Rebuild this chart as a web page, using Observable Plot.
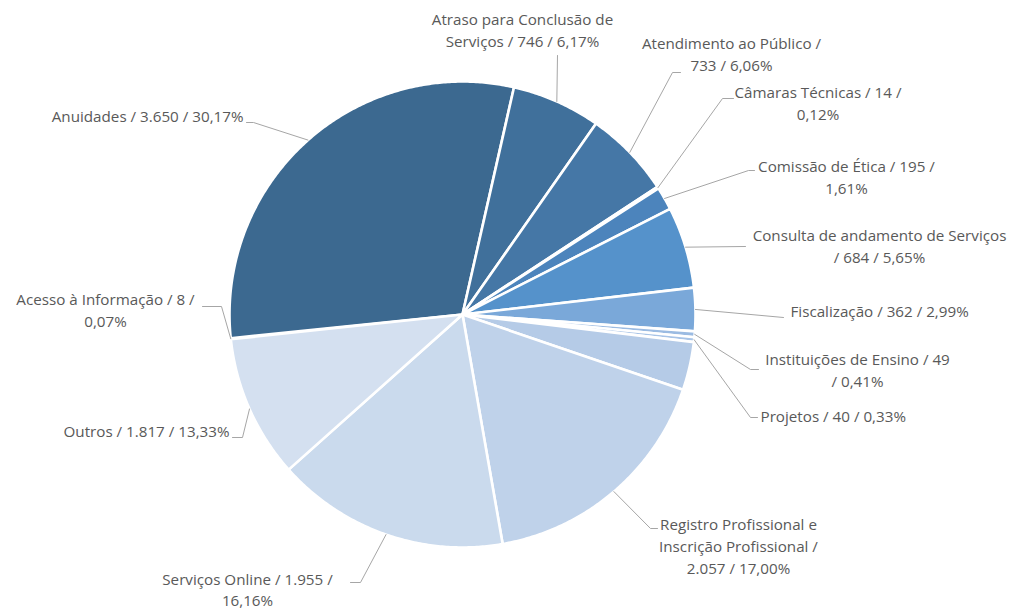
<!DOCTYPE html>
<html><head><meta charset="utf-8">
<script src="https://cdn.jsdelivr.net/npm/d3@7"></script>
<script src="https://cdn.jsdelivr.net/npm/@observablehq/plot@0.6"></script>
<style>body{margin:0;background:#fff;} #chart svg{display:block;}</style>
</head><body><div id="chart"></div>
<script>
// ---- data (clockwise order, as drawn) ----
const categories = ["Acesso à Informação","Anuidades","Atraso para Conclusão de Serviços","Atendimento ao Público","Câmaras Técnicas","Comissão de Ética","Consulta de andamento de Serviços","Fiscalização","Instituições de Ensino","Projetos","","Registro Profissional e Inscrição Profissional","Serviços Online","Outros"];
const counts = [8, 3650, 746, 733, 14, 195, 684, 362, 49, 40, null, 2057, 1955, 1817];
const percents = [0.07, 30.17, 6.17, 6.06, 0.12, 1.61, 5.65, 2.99, 0.41, 0.33, null, 17.00, 16.16, 13.33];
// share of the circle each slice occupies in the picture (percent)
const sliceShare = [0.07, 30.17, 6.17, 6.06, 0.12, 1.61, 5.65, 2.99, 0.41, 0.33, 3.35, 17.00, 16.16, 9.9];
const colors = ["#DCE6F2","#3C6990","#40709B","#4577A6","#497EB1","#4C84BC","#5592CB","#7AA8D9","#9BBBE2","#A8C4E7","#B5CBE7","#BFD2EA","#CADAED","#D4E0F0"];

// ---- layout (pixels) ----
const W = 1009, H = 610;
const cx = 462, cy = 314, R = 233;
const startAngle = 263.9; // degrees clockwise from 12 o'clock
const lineGap = 21.7;
const labelLayout = [
  {text:[105,299.5], anchor:"middle", wrap:25, elbow:[221,306], end:[202,306]},
  {text:[243,116.5], anchor:"end", wrap:99, elbow:[253,122], end:[246,122]},
  {text:[522,20], anchor:"middle", wrap:24, elbow:null, end:[557,55]},
  {text:[731,44], anchor:"middle", wrap:24, elbow:[672,72], end:[680,72]},
  {text:[817.5,93], anchor:"middle", wrap:23, elbow:[722,98], end:[733,98]},
  {text:[846,167], anchor:"middle", wrap:25, elbow:[748,170], end:[754,170]},
  {text:[879,235.5], anchor:"middle", wrap:33, elbow:null, end:[745,246]},
  {text:[790,312], anchor:"start", wrap:99, elbow:null, end:[783,317]},
  {text:[857,359.5], anchor:"middle", wrap:27, elbow:[750,369], end:[758,369]},
  {text:[760,416.5], anchor:"start", wrap:99, elbow:[750,417], end:[757,417]},
  null,
  {text:[738,525], anchor:"middle", wrap:24, elbow:[650,528], end:[657,528]},
  {text:[247,579.3], anchor:"middle", wrap:25, elbow:[360,582], end:[350,582]},
  {text:[229,431.5], anchor:"end", wrap:99, elbow:[242,437], end:[232,437]}
];

const loc = d3.formatLocale({decimal:",", thousands:".", grouping:[3], currency:["R$",""]});
const fmtInt = loc.format(",d"), fmtPct = loc.format(".2f");

// ---- geometry from data ----
const total = d3.sum(sliceShare);
const rad = a => a * Math.PI / 180;
const px = (a, r) => cx + r * Math.sin(rad(a));
const py = (a, r) => cy - r * Math.cos(rad(a));
let acc = startAngle;
const slices = categories.map((c, i) => {
  const a0 = acc, a1 = acc + sliceShare[i] / total * 360;
  acc = a1;
  return {i, cat: c || "(sem rótulo)", a0, a1, mid: (a0 + a1) / 2, color: colors[i]};
});
const slicePts = [];
for (const s of slices) {
  slicePts.push({k: s.i, x: cx, y: cy, color: s.color});
  const n = Math.max(2, Math.ceil((s.a1 - s.a0) / 0.5));
  for (let j = 0; j <= n; j++) {
    const a = s.a0 + (s.a1 - s.a0) * j / n;
    slicePts.push({k: s.i, x: px(a, R), y: py(a, R), color: s.color});
  }
}

function wrap(str, n) {
  const words = str.split(" "), lines = [];
  let cur = "";
  for (const w of words) {
    if (cur === "") cur = w;
    else if ((cur + " " + w).length <= n) cur += " " + w;
    else { lines.push(cur); cur = w; }
  }
  if (cur) lines.push(cur);
  return lines;
}

const leaderPts = [], textRows = [];
slices.forEach(s => {
  const L = labelLayout[s.i];
  if (!L || counts[s.i] == null) return;
  leaderPts.push({k: s.i, x: px(s.mid, R), y: py(s.mid, R)});
  if (L.elbow) leaderPts.push({k: s.i, x: L.elbow[0], y: L.elbow[1]});
  leaderPts.push({k: s.i, x: L.end[0], y: L.end[1]});
  const label = `${categories[s.i]} / ${fmtInt(counts[s.i])} / ${fmtPct(percents[s.i])}%`;
  wrap(label, L.wrap).forEach((t, j) => textRows.push({x: L.text[0], y: L.text[1] + j * lineGap, t, anchor: L.anchor}));
});

const font = "Open Sans";
const textMark = anchor => Plot.text(textRows.filter(d => d.anchor === anchor), {
  x: "x", y: "y", text: "t", textAnchor: anchor, fill: "#595959", fontSize: 15.2, fontFamily: font
});

const chart = Plot.plot({
  width: W, height: H, margin: 0,
  x: {domain: [0, W], range: [0, W], axis: null},
  y: {domain: [0, H], range: [0, H], axis: null},
  color: {type: "identity"},
  style: {background: "#fff", fontFamily: font},
  marks: [
    Plot.line(slicePts, {x: "x", y: "y", z: "k", fill: "color", stroke: "#fff", strokeWidth: 2.6, strokeLinejoin: "round", curve: "linear-closed"}),
    Plot.line(leaderPts, {x: "x", y: "y", z: "k", stroke: "#A6A6A6", strokeWidth: 1}),
    textMark("start"), textMark("middle"), textMark("end")
  ]
});
document.getElementById("chart").append(chart);
</script>
</body></html>
